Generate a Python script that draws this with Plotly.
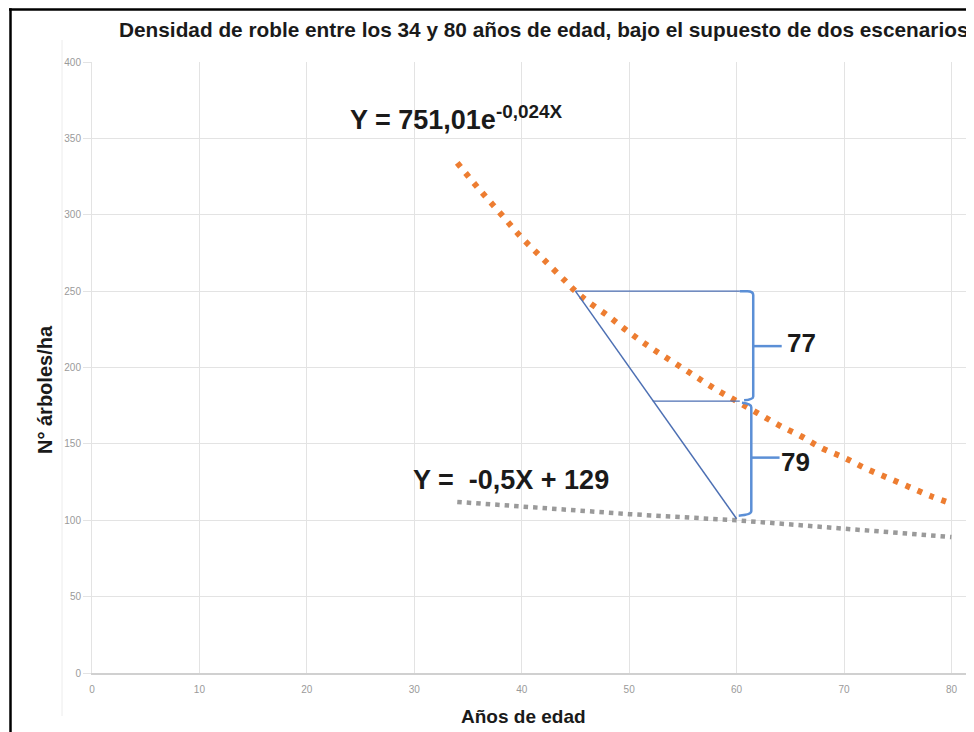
import plotly.graph_objects as go

# ---------------- data ----------------
edad_exp = [34, 36, 38, 40, 42, 44, 45, 46, 48, 50, 52, 54, 56, 58, 60,
            62, 64, 66, 68, 70, 72, 74, 76, 78, 80]
dens_exp = [334, 317, 301, 285, 271, 257, 250, 244, 234, 223, 213, 204, 195, 186, 178,
            170, 162, 155, 147, 141, 134, 128, 122, 116, 111]

edad_lin = [34, 40, 50, 60, 70, 80]
dens_lin = [112, 109, 104, 100, 94.5, 89]

x_ticks = [0, 10, 20, 30, 40, 50, 60, 70, 80]
y_ticks = [0, 50, 100, 150, 200, 250, 300, 350, 400]

titulo = "Densidad de roble entre los 34 y 80 años de edad, bajo el supuesto de dos escenarios"
eq_exp = "Y = 751,01e<sup>-0,024X</sup>"
eq_lin = "Y = \u00a0-0,5X + 129"
dif_1 = "77"
dif_2 = "79"

# ---------------- figure geometry ----------------
OFF = 8                      # page body margin of the browser
W, H = 974 - OFF, 732 - OFF
ML, MR, MT, MB = 92 - OFF, 0, 62 - OFF, 59
PW, PH = W - ML - MR, H - MT - MB


def px_x(p):
    """screen pixel x -> paper x"""
    return (p - OFF - ML) / PW


def px_y(p):
    """screen pixel y -> paper y"""
    return (H - MB - (p - OFF)) / PH


ORANGE = "#ED7D31"
GRAY = "#9A9A9A"
BLUE = "#5B8FD6"
SLATE = "#4C6FB3"
FONT = "Liberation Sans, Arial"

fig = go.Figure()
fig.add_trace(go.Scatter(
    x=edad_exp, y=dens_exp, mode="lines",
    line=dict(color=ORANGE, width=6, dash="5px,8px", shape="spline"),
    showlegend=False, hoverinfo="skip"))
fig.add_trace(go.Scatter(
    x=edad_lin, y=dens_lin, mode="lines",
    line=dict(color=GRAY, width=4.5, dash="4.5px,5px"),
    showlegend=False, hoverinfo="skip"))

# reference values from the data
y45 = dens_exp[edad_exp.index(45)]
y60o = dens_exp[edad_exp.index(60)]
y60g = dens_lin[edad_lin.index(60)]

shapes = []
# diagonal and horizontal guide lines
shapes.append(dict(type="line", xref="x", yref="y", x0=45, y0=y45, x1=60, y1=y60g + 1,
                   line=dict(color=SLATE, width=1.5)))
shapes.append(dict(type="line", xref="x", yref="y", x0=45, y0=y45, x1=60.3, y1=y45,
                   line=dict(color=SLATE, width=1.2)))
shapes.append(dict(type="line", xref="x", yref="y", x0=52.2, y0=y60o, x1=60.3, y1=y60o,
                   line=dict(color=SLATE, width=1.2)))
# upper bracket
bx1 = 61.55
shapes.append(dict(type="path", xref="x", yref="y",
                   path=f"M 60.3,{y45} L 61.0,{y45} Q {bx1},{y45} {bx1},{y45-2.5} "
                        f"L {bx1},{y60o+3} Q {bx1},{y60o+1} 60.7,{y60o+0.5}",
                   line=dict(color=BLUE, width=2.5)))
mid1 = (y45 + y60o) / 2
shapes.append(dict(type="line", xref="x", yref="y", x0=bx1, y0=mid1, x1=64.2, y1=mid1,
                   line=dict(color=BLUE, width=2.5)))
# lower bracket
bx2 = 61.37
shapes.append(dict(type="path", xref="x", yref="y",
                   path=f"M 60.5,{y60o-1} Q {bx2},{y60o-1.5} {bx2},{y60o-4} "
                        f"L {bx2},{y60g+6} Q {bx2},{y60g+3.5} 60.2,{y60g+3}",
                   line=dict(color=BLUE, width=2.5)))
mid2 = (y60o + y60g) / 2 + 2
shapes.append(dict(type="line", xref="x", yref="y", x0=bx2, y0=mid2, x1=64.0, y1=mid2,
                   line=dict(color=BLUE, width=2.5)))

# frame lines (top and left) and faint outer chart border
shapes.append(dict(type="line", xref="paper", yref="paper",
                   x0=px_x(9), y0=px_y(9.5), x1=px_x(990), y1=px_y(9.5),
                   line=dict(color="black", width=2.5)))
shapes.append(dict(type="line", xref="paper", yref="paper",
                   x0=px_x(10.5), y0=px_y(8.3), x1=px_x(10.5), y1=px_y(745),
                   line=dict(color="black", width=2.5)))
shapes.append(dict(type="line", xref="paper", yref="paper",
                   x0=px_x(62), y0=px_y(40), x1=px_x(62), y1=px_y(716),
                   line=dict(color="#ececec", width=1)))

annotations = [
    dict(text=f"<b>{titulo}</b>", xref="paper", yref="paper",
         x=px_x(543), y=px_y(30), showarrow=False, xanchor="center", yanchor="middle",
         font=dict(family=FONT, size=20.8, color="#1a1a1a")),
    dict(text="<b>Años de edad</b>", xref="paper", yref="paper",
         x=px_x(523), y=px_y(716), showarrow=False, xanchor="center", yanchor="middle",
         font=dict(family=FONT, size=19, color="#1a1a1a")),
    dict(text="<b>N° árboles/ha</b>", xref="paper", yref="paper",
         x=px_x(45), y=px_y(390), showarrow=False, xanchor="center", yanchor="middle",
         textangle=-90,
         font=dict(family=FONT, size=20, color="#1a1a1a")),
    dict(text=f"<b>{eq_exp}</b>", xref="paper", yref="paper",
         x=px_x(348), y=px_y(118), showarrow=False, xanchor="left", yanchor="middle",
         font=dict(family=FONT, size=27, color="#1a1a1a")),
    dict(text=f"<b>{eq_lin}</b>", xref="paper", yref="paper",
         x=px_x(411), y=px_y(480), showarrow=False, xanchor="left", yanchor="middle",
         font=dict(family=FONT, size=27, color="#1a1a1a")),
    dict(text=f"<b>{dif_1}</b>", xref="paper", yref="paper",
         x=px_x(785), y=px_y(343), showarrow=False, xanchor="left", yanchor="middle",
         font=dict(family=FONT, size=26, color="#1a1a1a")),
    dict(text=f"<b>{dif_2}</b>", xref="paper", yref="paper",
         x=px_x(779), y=px_y(462), showarrow=False, xanchor="left", yanchor="middle",
         font=dict(family=FONT, size=26, color="#1a1a1a")),
]

fig.update_layout(
    width=W, height=H,
    margin=dict(l=ML, r=MR, t=MT, b=MB, autoexpand=False),
    paper_bgcolor="white", plot_bgcolor="white",
    shapes=shapes, annotations=annotations,
    font=dict(family=FONT),
)
fig.update_xaxes(range=[0, 82.1], tickvals=x_ticks, ticktext=[str(v) for v in x_ticks],
                 showgrid=True, gridcolor="#e3e3e3", gridwidth=1,
                 zeroline=False, showline=True, linecolor="#d0d0d0", linewidth=1.5,
                 ticks="outside", ticklen=6, tickcolor="#ffffff",
                 tickfont=dict(size=10, color="#9a9a9a"))
fig.update_yaxes(range=[0, 400], tickvals=y_ticks, ticktext=[str(v) for v in y_ticks],
                 showgrid=True, gridcolor="#e3e3e3", gridwidth=1,
                 zeroline=False, showline=True, linecolor="#e3e3e3", linewidth=1,
                 ticks="outside", ticklen=8, tickcolor="#e3e3e3",
                 tickfont=dict(size=10, color="#9a9a9a"))

fig.write_html("out.html")
